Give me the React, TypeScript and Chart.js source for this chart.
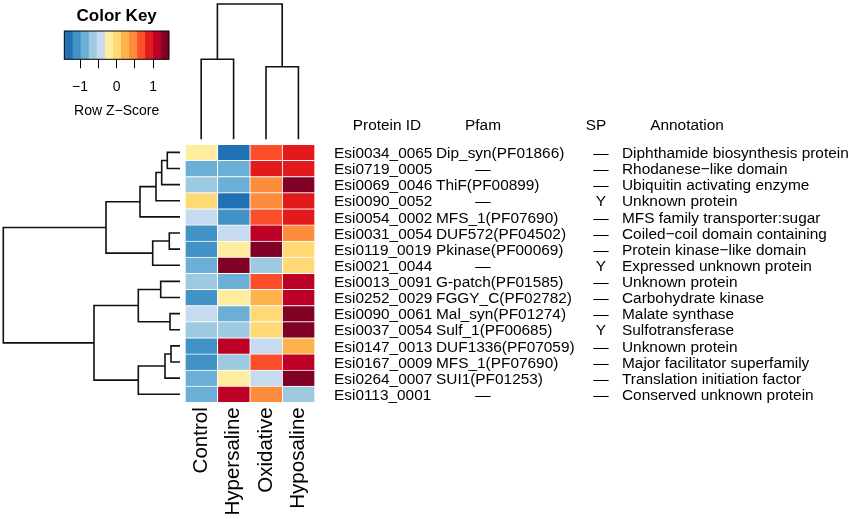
import React, { useEffect, useRef } from 'react';
import { Chart, registerables } from 'chart.js';

Chart.register(...registerables);

const W = 851;
const H = 519;
const FONT = "'Liberation Sans', Arial, Helvetica, sans-serif";

// ---------- data ----------
const conditions = ['Control', 'Hypersaline', 'Oxidative', 'Hyposaline'];

const proteinIds = [
  'Esi0034_0065', 'Esi0719_0005', 'Esi0069_0046', 'Esi0090_0052',
  'Esi0054_0002', 'Esi0031_0054', 'Esi0119_0019', 'Esi0021_0044',
  'Esi0013_0091', 'Esi0252_0029', 'Esi0090_0061', 'Esi0037_0054',
  'Esi0147_0013', 'Esi0167_0009', 'Esi0264_0007', 'Esi0113_0001',
];

const pfamDomains = [
  'Dip_syn(PF01866)', '', 'ThiF(PF00899)', '',
  'MFS_1(PF07690)', 'DUF572(PF04502)', 'Pkinase(PF00069)', '',
  'G-patch(PF01585)', 'FGGY_C(PF02782)', 'Mal_syn(PF01274)', 'Sulf_1(PF00685)',
  'DUF1336(PF07059)', 'MFS_1(PF07690)', 'SUI1(PF01253)', '',
];

const signalPeptide = [
  '', '', '', 'Y', '', '', '', 'Y', '', '', '', 'Y', '', '', '', '',
];

const annotations = [
  'Diphthamide biosynthesis protein', 'Rhodanese\u2212like domain', 'Ubiquitin activating enzyme', 'Unknown protein',
  'MFS family transporter:sugar', 'Coiled\u2212coil domain containing', 'Protein kinase\u2212like domain', 'Expressed unknown protein',
  'Unknown protein', 'Carbohydrate kinase', 'Malate synthase', 'Sulfotransferase',
  'Unknown protein', 'Major facilitator superfamily', 'Translation initiation factor', 'Conserved unknown protein',
];

// row z-scores, one array per condition (rows in displayed order, top to bottom)
const controlZ = [-0.22, -0.88, -0.66, 0.0, -0.44, -1.1, -1.1, -0.88, -0.66, -1.1, -0.44, -0.66, -1.1, -1.1, -0.88, -0.88];
const hypersalineZ = [-1.32, -0.88, -0.88, -1.32, -1.1, -0.44, -0.22, 1.32, -0.88, -0.22, -0.88, -0.66, 1.1, -0.66, -0.22, 1.1];
const oxidativeZ = [0.66, 0.88, 0.44, 0.44, 0.66, 1.1, 1.32, -0.66, 0.66, 0.22, 0.0, 0.0, -0.44, 0.66, -0.44, 0.44];
const hyposalineZ = [0.88, 0.88, 1.32, 0.88, 0.88, 0.44, 0.0, 0.0, 1.1, 1.1, 1.32, 1.32, 0.22, 1.1, 1.32, -0.66];
const seriesZ = [controlZ, hypersalineZ, oxidativeZ, hyposalineZ];

const keyColors = [
  '#2171B5', '#4292C6', '#6BAED6', '#9ECAE1', '#C6DBEF', '#FFEDA0', '#FED976',
  '#FEB24C', '#FD8D3C', '#FC4E2A', '#E31A1C', '#BD0026', '#800026',
];
const zMin = -1.43;
const zMax = 1.43;
const keyTicks = [-1, -0.5, 0, 0.5, 1];

// hclust-style merges (negative = leaf, positive = earlier merge) and heights
const rowMerge = [
  [-1, -2], [1, -3], [2, -4], [3, -5], [-6, -7], [5, -8], [4, 6],
  [-9, -10], [-11, -12], [8, 9], [-13, -14], [11, -15], [12, -16], [10, 13], [7, 14],
];
const rowHeight = [12.7, 18.3, 24, 40, 10.7, 27.3, 74, 19.3, 10, 41.7, 9, 15, 41.7, 86, 176.7];

const colMerge = [[-1, -2], [-3, -4], [1, 2]];
const colHeight = [80, 72.6, 135.3];

// ---------- helpers ----------
function colorFor(z: number): string {
  const bw = (zMax - zMin) / keyColors.length;
  let i = Math.floor((z - zMin) / bw);
  if (i < 0) i = 0;
  if (i >= keyColors.length) i = keyColors.length - 1;
  return keyColors[i];
}

function dendroSegments(merge: number[][], height: number[]) {
  const pos: number[] = [];
  const segs: { p: number; h: number }[][] = [];
  merge.forEach(([a, b], i) => {
    const pa = a < 0 ? -a - 1 : pos[a - 1];
    const pb = b < 0 ? -b - 1 : pos[b - 1];
    const ha = a < 0 ? 0 : height[a - 1];
    const hb = b < 0 ? 0 : height[b - 1];
    pos[i] = (pa + pb) / 2;
    segs.push([
      { p: pa, h: ha },
      { p: pa, h: height[i] },
      { p: pb, h: height[i] },
      { p: pb, h: hb },
    ]);
  });
  return segs;
}

const baseOpts = {
  animation: false as const,
  responsive: false,
  events: [] as any[],
};

// heatmap geometry (page pixels)
const HM_LEFT = 185;
const HM_RIGHT = 314.6;
const HM_TOP = 144.3;
const HM_BOTTOM = 402.3;
const LINE = '#111';

const tablePlugin = {
  id: 'proteinTable',
  afterDraw(chart: any) {
    const ctx = chart.ctx;
    const ys = chart.scales.y;
    const right = chart.chartArea.right;
    const xId = right + 19.4;
    const xPfam = right + 121.4;
    const xPfamDash = right + 168.4;
    const xSP = right + 286.4;
    const xAnn = right + 307.4;
    ctx.save();
    ctx.fillStyle = '#000';
    ctx.font = `15.4px ${FONT}`;
    ctx.textBaseline = 'middle';
    const hy = ys.getPixelForValue(proteinIds.length) - 18.3;
    ctx.textAlign = 'center';
    ctx.fillText('Protein ID', right + 72.4, hy);
    ctx.fillText('Pfam', xPfamDash, hy);
    ctx.fillText('SP', right + 281.4, hy);
    ctx.fillText('Annotation', right + 372.4, hy);
    proteinIds.forEach((id, i) => {
      const y = ys.getPixelForValue(proteinIds.length - i - 0.5) + 1.5;
      ctx.textAlign = 'left';
      ctx.fillText(id, xId, y);
      if (pfamDomains[i]) {
        ctx.fillText(pfamDomains[i], xPfam, y);
      } else {
        ctx.textAlign = 'center';
        ctx.fillText('\u2014', xPfamDash, y);
      }
      ctx.textAlign = 'center';
      ctx.fillText(signalPeptide[i] || '\u2014', xSP, y);
      ctx.textAlign = 'left';
      ctx.fillText(annotations[i], xAnn, y);
    });
    ctx.restore();
  },
};

const keyBorderPlugin = {
  id: 'keyBorder',
  afterDatasetsDraw(chart: any) {
    const { left, top, right, bottom } = chart.chartArea;
    const ctx = chart.ctx;
    ctx.save();
    ctx.strokeStyle = '#000';
    ctx.lineWidth = 1;
    ctx.strokeRect(left, top, right - left, bottom - top);
    ctx.restore();
  },
};

export default function App() {
  const keyRef = useRef<HTMLCanvasElement>(null);
  const colRef = useRef<HTMLCanvasElement>(null);
  const rowRef = useRef<HTMLCanvasElement>(null);
  const hmRef = useRef<HTMLCanvasElement>(null);

  useEffect(() => {
    const charts: Chart[] = [];

    // ----- color key -----
    const bw = (zMax - zMin) / keyColors.length;
    charts.push(
      new Chart(keyRef.current as HTMLCanvasElement, {
        type: 'bar',
        data: {
          labels: ['key'],
          datasets: keyColors.map((c, i) => ({
            data: [[zMin + i * bw, zMin + (i + 1) * bw]] as any,
            backgroundColor: c,
            borderWidth: 0,
            grouped: false,
            barPercentage: 1,
            categoryPercentage: 1,
          })),
        },
        options: {
          ...baseOpts,
          indexAxis: 'y',
          layout: { padding: { left: 64.3, right: W - 169, top: 6.6, bottom: H - 59.3 - 60 } },
          plugins: {
            legend: { display: false },
            tooltip: { enabled: false },
            title: {
              display: true,
              text: 'Color Key',
              color: '#000',
              fullSize: false,
              font: { size: 17, weight: 'bold', family: FONT },
              padding: { top: 0, bottom: 4 },
            },
          },
          scales: {
            x: {
              type: 'linear',
              min: zMin,
              max: zMax,
              afterBuildTicks: (s: any) => {
                s.ticks = keyTicks.map((v) => ({ value: v }));
              },
              afterFit: (s: any) => {
                s.height = 60;
              },
              ticks: {
                autoSkip: false,
                maxRotation: 0,
                color: '#000',
                padding: 10,
                font: { size: 14, family: FONT },
                callback: (v: any) => {
                  const n = Number(v);
                  if (!Number.isInteger(n)) return '';
                  return n < 0 ? '\u2212' + Math.abs(n) : String(Math.abs(n));
                },
              },
              grid: { display: true, drawOnChartArea: false, drawTicks: true, tickLength: 9, color: '#000', lineWidth: 1 },
              border: { display: false },
              title: {
                display: true,
                text: 'Row Z\u2212Score',
                color: '#000',
                font: { size: 14, family: FONT },
                padding: { top: 0, bottom: 0 },
              },
            },
            y: { display: false },
          },
        } as any,
        plugins: [keyBorderPlugin],
      })
    );

    // ----- column dendrogram -----
    const colSegs = dendroSegments(colMerge, colHeight);
    charts.push(
      new Chart(colRef.current as HTMLCanvasElement, {
        type: 'scatter',
        data: {
          datasets: colSegs.map((s) => ({
            data: s.map((q) => ({ x: q.p, y: q.h })),
            showLine: true,
            borderColor: LINE,
            borderWidth: 1.6,
            pointRadius: 0,
            tension: 0,
            clip: false as any,
          })),
        },
        options: {
          ...baseOpts,
          layout: { padding: { left: HM_LEFT, right: W - HM_RIGHT, top: 4, bottom: H - 139.3 } },
          plugins: { legend: { display: false }, tooltip: { enabled: false } },
          scales: {
            x: { type: 'linear', min: -0.5, max: conditions.length - 0.5, display: false },
            y: { type: 'linear', min: 0, max: Math.max(...colHeight), display: false },
          },
        } as any,
      })
    );

    // ----- row dendrogram -----
    const rowSegs = dendroSegments(rowMerge, rowHeight);
    charts.push(
      new Chart(rowRef.current as HTMLCanvasElement, {
        type: 'scatter',
        data: {
          datasets: rowSegs.map((s) => ({
            data: s.map((q) => ({ x: q.h, y: q.p })),
            showLine: true,
            borderColor: LINE,
            borderWidth: 1.6,
            pointRadius: 0,
            tension: 0,
            clip: false as any,
          })),
        },
        options: {
          ...baseOpts,
          layout: { padding: { left: 3.3, right: W - 180, top: HM_TOP, bottom: H - HM_BOTTOM } },
          plugins: { legend: { display: false }, tooltip: { enabled: false } },
          scales: {
            x: { type: 'linear', min: 0, max: Math.max(...rowHeight), reverse: true, display: false },
            y: { type: 'linear', min: -0.5, max: proteinIds.length - 0.5, reverse: true, display: false },
          },
        } as any,
      })
    );

    // ----- heatmap -----
    const n = proteinIds.length;
    const hmDatasets = [];
    for (let j = 0; j < n; j++) {
      const row = n - 1 - j;
      hmDatasets.push({
        data: conditions.map(() => 1),
        backgroundColor: seriesZ.map((s) => colorFor(s[row])),
        borderColor: '#ffffff',
        borderWidth: { top: 1, left: 1, right: 0, bottom: 0 },
        borderSkipped: false,
        barPercentage: 1,
        categoryPercentage: 1,
      });
    }
    charts.push(
      new Chart(hmRef.current as HTMLCanvasElement, {
        type: 'bar',
        data: { labels: conditions, datasets: hmDatasets as any },
        options: {
          ...baseOpts,
          layout: { padding: { left: HM_LEFT, right: W - HM_RIGHT, top: HM_TOP, bottom: 0 } },
          plugins: { legend: { display: false }, tooltip: { enabled: false } },
          scales: {
            x: {
              stacked: true,
              grid: { display: false },
              border: { display: false },
              afterFit: (s: any) => {
                s.height = H - HM_BOTTOM;
              },
              ticks: {
                autoSkip: false,
                minRotation: 90,
                maxRotation: 90,
                padding: -3,
                color: '#000',
                font: { size: 20.5, family: FONT },
              },
            },
            y: { stacked: true, min: 0, max: n, display: false },
          },
        } as any,
        plugins: [tablePlugin],
      })
    );

    return () => charts.forEach((c) => c.destroy());
  }, []);

  const cs: React.CSSProperties = { position: 'absolute', left: 0, top: 0 };
  return (
    <div style={{ position: 'absolute', left: 0, top: 0, width: W, height: H, background: '#fff' }}>
      <canvas ref={hmRef} width={W} height={H} style={cs} />
      <canvas ref={rowRef} width={W} height={H} style={cs} />
      <canvas ref={colRef} width={W} height={H} style={cs} />
      <canvas ref={keyRef} width={W} height={H} style={cs} />
    </div>
  );
}
